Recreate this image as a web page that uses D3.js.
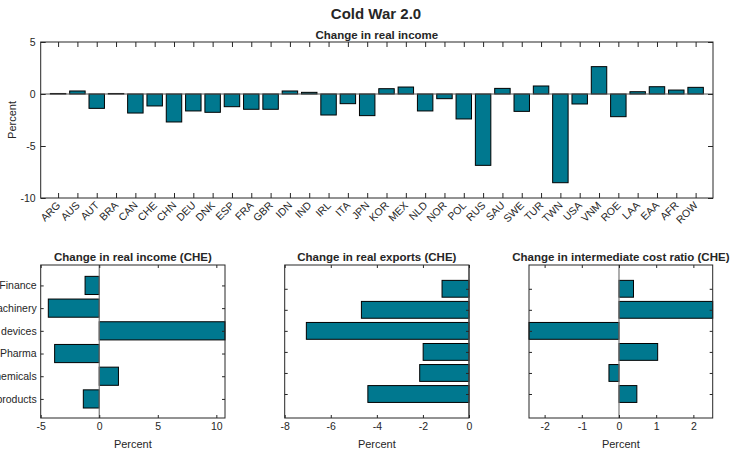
<!DOCTYPE html>
<html lang="en">
<head>
  <meta charset="UTF-8">
  <title>Cold War 2.0</title>
  <script src="https://d3js.org/d3.v7.min.js"></script>
  <style>
    body {
      margin: 0;
      background: #fff;
    }
    svg text {
      font-family: "Liberation Sans", Arial, Helvetica, sans-serif;
      fill: #262626;
    }
    .tick line {
      stroke: #262626;
    }
    .tick text {
      font-size: 10.5px;
    }
    .title {
      font-weight: bold;
    }
  </style>
</head>
<body>
  <div id="chart"></div>

  <script>
    const countries = ["ARG", "AUS", "AUT", "BRA", "CAN", "CHE", "CHN", "DEU", "DNK", "ESP", "FRA", "GBR",
      "IDN", "IND", "IRL", "ITA", "JPN", "KOR", "MEX", "NLD", "NOR", "POL", "RUS", "SAU", "SWE", "TUR",
      "TWN", "USA", "VNM", "ROE", "LAA", "EAA", "AFR", "ROW"];
    const incomeChange = [0.05, 0.29, -1.38, 0.05, -1.83, -1.15, -2.69, -1.63, -1.76, -1.22, -1.47, -1.47,
      0.29, 0.16, -2.02, -0.93, -2.08, 0.51, 0.67, -1.63, -0.45, -2.4, -6.86, 0.54, -1.67, 0.77,
      -8.53, -0.96, 2.63, -2.18, 0.22, 0.7, 0.38, 0.64];
    const incomeTicks = [-10, -5, 0, 5];

    // sectors listed top to bottom
    const sectors = ["Finance", "Machinery", "Medical devices", "Pharma", "Chemicals", "Other products"];
    const realIncomeCHE = [-1.21, -4.35, 10.74, -3.81, 1.64, -1.36];
    const realExportsCHE = [-1.17, -4.67, -7.06, -1.99, -2.14, -4.39];
    const costRatioCHE = [0.39, 2.52, -2.42, 1.04, -0.27, 0.48];
    const incomeCHETicks = [-5, 0, 5, 10];
    const exportsCHETicks = [-8, -6, -4, -2, 0];
    const costCHETicks = [-2, -1, 0, 1, 2];

    const width = 732, height = 450;
    const barColor = "#00788f";
    const axisColor = "#262626";
    const plain = d => String(d);   // hyphen minus like the original, not U+2212

    const svg = d3.select("#chart").append("svg")
      .attr("width", width)
      .attr("height", height);

    svg.append("text")
      .attr("class", "title")
      .attr("x", 376)
      .attr("y", 19)
      .attr("text-anchor", "middle")
      .style("font-size", "15px")
      .text("Cold War 2.0");

    function drawBox(g, x0, y0, x1, y1) {
      g.append("rect")
        .attr("x", x0)
        .attr("y", y0)
        .attr("width", x1 - x0)
        .attr("height", y1 - y0)
        .attr("fill", "none")
        .attr("stroke", axisColor)
        .attr("stroke-width", 1);
    }

    // ---- top panel: change in real income by country
    const main = { left: 40.7, right: 713, top: 42, bottom: 198 };
    const x = d3.scaleLinear().domain([0.1, 34.9]).range([main.left, main.right]);
    const y = d3.scaleLinear().domain([-10, 5]).range([main.bottom, main.top]);

    const gTop = svg.append("g");

    gTop.append("text")
      .attr("class", "title")
      .attr("x", (main.left + main.right) / 2)
      .attr("y", 38.5)
      .attr("text-anchor", "middle")
      .style("font-size", "11.5px")
      .text("Change in real income");

    gTop.selectAll(".bar")
      .data(incomeChange)
      .enter()
      .append("rect")
      .attr("class", "bar")
      .attr("x", (d, i) => x(i + 1 - 0.4))
      .attr("width", x(1.8) - x(1))
      .attr("y", d => y(Math.max(d, 0)))
      .attr("height", d => Math.abs(y(d) - y(0)))
      .attr("fill", barColor)
      .attr("stroke", "#000")
      .attr("stroke-width", 1);

    gTop.append("line")
      .attr("x1", main.left).attr("x2", main.right)
      .attr("y1", y(0)).attr("y2", y(0))
      .attr("stroke", "#555")
      .attr("stroke-width", 1);

    const idx = countries.map((c, i) => i + 1);

    gTop.append("g")
      .attr("transform", `translate(0,${main.bottom})`)
      .call(d3.axisBottom(x).tickValues(idx).tickFormat(i => countries[i - 1]).tickSize(-5).tickSizeOuter(0))
      .call(g => g.select(".domain").remove())
      .selectAll("text")
      .attr("text-anchor", "end")
      .attr("dy", 0)
      .attr("y", 0)
      .attr("transform", "translate(2.5,8) rotate(-45)");

    gTop.append("g")
      .attr("transform", `translate(0,${main.top})`)
      .call(d3.axisTop(x).tickValues(idx).tickFormat("").tickSize(-5).tickSizeOuter(0))
      .call(g => g.select(".domain").remove());

    gTop.append("g")
      .attr("transform", `translate(${main.left},0)`)
      .call(d3.axisLeft(y).tickValues(incomeTicks).tickFormat(plain).tickSize(-5).tickSizeOuter(0).tickPadding(5))
      .call(g => g.select(".domain").remove());

    gTop.append("g")
      .attr("transform", `translate(${main.right},0)`)
      .call(d3.axisRight(y).tickValues(incomeTicks).tickFormat("").tickSize(-5).tickSizeOuter(0))
      .call(g => g.select(".domain").remove());

    drawBox(gTop, main.left, main.top, main.right, main.bottom);

    gTop.append("text")
      .attr("transform", `translate(16,${(main.top + main.bottom) / 2}) rotate(-90)`)
      .attr("text-anchor", "middle")
      .style("font-size", "11px")
      .text("Percent");

    // ---- bottom panels: CHE by sector
    function drawPanel(opts) {
      const { values, xDomain, yDomain, ticks, left, right, title, showLabels } = opts;
      const t = 265, b = 418;
      const g = svg.append("g");
      const px = d3.scaleLinear().domain(xDomain).range([left, right]);
      // sector 1 (last in list) sits at the bottom
      const py = d3.scaleLinear().domain(yDomain).range([b, t]);
      const pos = (i) => sectors.length - i;

      g.append("text")
        .attr("class", "title")
        .attr("x", (left + right) / 2)
        .attr("y", 260.5)
        .attr("text-anchor", "middle")
        .style("font-size", "11.5px")
        .text(title);

      g.selectAll(".bar")
        .data(values)
        .enter()
        .append("rect")
        .attr("class", "bar")
        .attr("x", d => px(Math.min(d, 0)))
        .attr("width", d => Math.abs(px(d) - px(0)))
        .attr("y", (d, i) => py(pos(i) + 0.4))
        .attr("height", py(0) - py(0.8))
        .attr("fill", barColor)
        .attr("stroke", "#000")
        .attr("stroke-width", 1);

      g.append("line")
        .attr("x1", px(0)).attr("x2", px(0))
        .attr("y1", t).attr("y2", b)
        .attr("stroke", "#777")
        .attr("stroke-width", 1.2);

      const yTicks = sectors.map((s, i) => pos(i));

      g.append("g")
        .attr("transform", `translate(${left},0)`)
        .call(d3.axisLeft(py).tickValues(yTicks)
          .tickFormat(showLabels ? (v => sectors[sectors.length - v]) : "")
          .tickSize(-3).tickSizeOuter(0).tickPadding(4))
        .call(g => g.select(".domain").remove());

      g.append("g")
        .attr("transform", `translate(${right},0)`)
        .call(d3.axisRight(py).tickValues(yTicks).tickFormat("").tickSize(-3).tickSizeOuter(0))
        .call(g => g.select(".domain").remove());

      g.append("g")
        .attr("transform", `translate(0,${b})`)
        .call(d3.axisBottom(px).tickValues(ticks).tickFormat(plain).tickSize(-3).tickSizeOuter(0).tickPadding(5))
        .call(g => g.select(".domain").remove());

      g.append("g")
        .attr("transform", `translate(0,${t})`)
        .call(d3.axisTop(px).tickValues(ticks).tickFormat("").tickSize(-3).tickSizeOuter(0))
        .call(g => g.select(".domain").remove());

      drawBox(g, left, t, right, b);

      g.append("text")
        .attr("x", (left + right) / 2)
        .attr("y", 448)
        .attr("text-anchor", "middle")
        .style("font-size", "11px")
        .text("Percent");
    }

    drawPanel({
      values: realIncomeCHE, xDomain: [-5, 10.74], yDomain: [0.16, 6.9], ticks: incomeCHETicks,
      left: 40.7, right: 225, title: "Change in real income (CHE)", showLabels: true
    });
    drawPanel({
      values: realExportsCHE, xDomain: [-8, 0], yDomain: [-0.14, 7.13], ticks: exportsCHETicks,
      left: 284.7, right: 469, title: "Change in real exports (CHE)", showLabels: false
    });
    drawPanel({
      values: costRatioCHE, xDomain: [-2.42, 2.52], yDomain: [-0.14, 7.13], ticks: costCHETicks,
      left: 529, right: 712.7, title: "Change in intermediate cost ratio (CHE)", showLabels: false
    });
  </script>
</body>
</html>
